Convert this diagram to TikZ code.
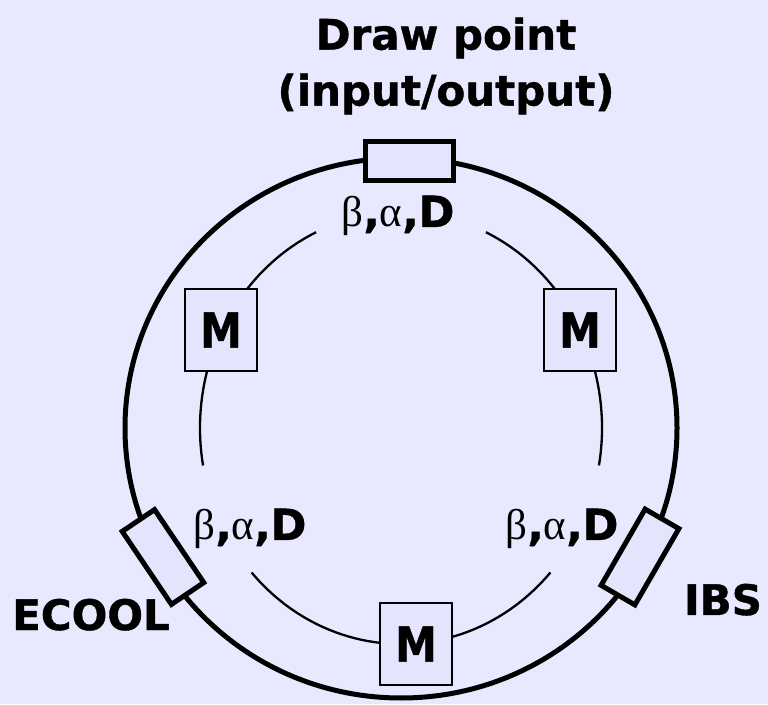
\documentclass[tikz,border=0pt]{standalone}
\usepackage{graphicx}
\usepackage{fontspec}
\setmainfont{DejaVu Sans}[BoldFeatures={FakeBold=1}]
\newfontfamily\greekfont{Liberation Serif}
\definecolor{bgcol}{RGB}{232,232,254}
\definecolor{boxfill}{RGB}{228,228,252}
\newcommand{\bigfont}{\fontsize{42}{56}\selectfont\bfseries}
\newcommand{\optfont}{\fontsize{43}{48}\selectfont\bfseries}
\newcommand{\optics}{{\greekfont\mdseries β},{\greekfont\mdseries α},D}
\newcommand{\tallM}{\scalebox{1}[1.15]{M}}

\begin{document}
\begin{tikzpicture}[
	x=1pt, y=1pt,
	ring/.style={ line width=5pt },
	orbit/.style={ line width=2.3pt },
	element/.style={ draw, line width=5pt, fill=boxfill, minimum width=88pt, minimum height=39pt, inner sep=0pt },
	mbox/.style={ draw, line width=2.8pt, fill=boxfill, minimum width=72pt, minimum height=82pt, inner sep=0pt, font=\bigfont },
	lbl/.style={ font=\bigfont, inner sep=0pt },
	optlbl/.style={ font=\optfont, inner sep=0pt, anchor=base }
]
\useasboundingbox (0,0) rectangle (768,704);
\fill[bgcol] (0,0) rectangle (768,704);

\coordinate (centre) at (401,276);
\draw[ring] (centre) ellipse [x radius=276, y radius=270];
\draw[orbit] (centre) ++(115:201 and 216) arc [start angle=115, end angle=190, x radius=201, y radius=216];
\draw[orbit] (centre) ++(65:201 and 216) arc [start angle=65, end angle=-10, x radius=201, y radius=216];
\draw[orbit] (centre) ++(222:201 and 216) arc [start angle=222, end angle=318, x radius=201, y radius=216];

\node at (409,543) (drawpt) [element] {};
\node at (163,147) (ecoolbox) [element, rotate=-56] {};
\node at (640,147) (ibsbox) [element, rotate=60] {};

\node at (221,374) (mleft) [mbox] {\tallM};
\node at (580,374) (mright) [mbox] {\tallM};
\node at (416,60) (mbottom) [mbox] {\tallM};

\node at (446,638) (title) [lbl, align=center] {Draw point\\(input/output)};
\node at (91,74) (ecool) [lbl, anchor=base] {ECOOL};
\node at (723,89) (ibs) [lbl, anchor=base] {IBS};
\foreach \x/\y/\n in {398/477/top, 250/164/left, 562/164/right}
  \node at (\x,\y) (opt\n) [optlbl] {\optics};

\end{tikzpicture}
\end{document}
